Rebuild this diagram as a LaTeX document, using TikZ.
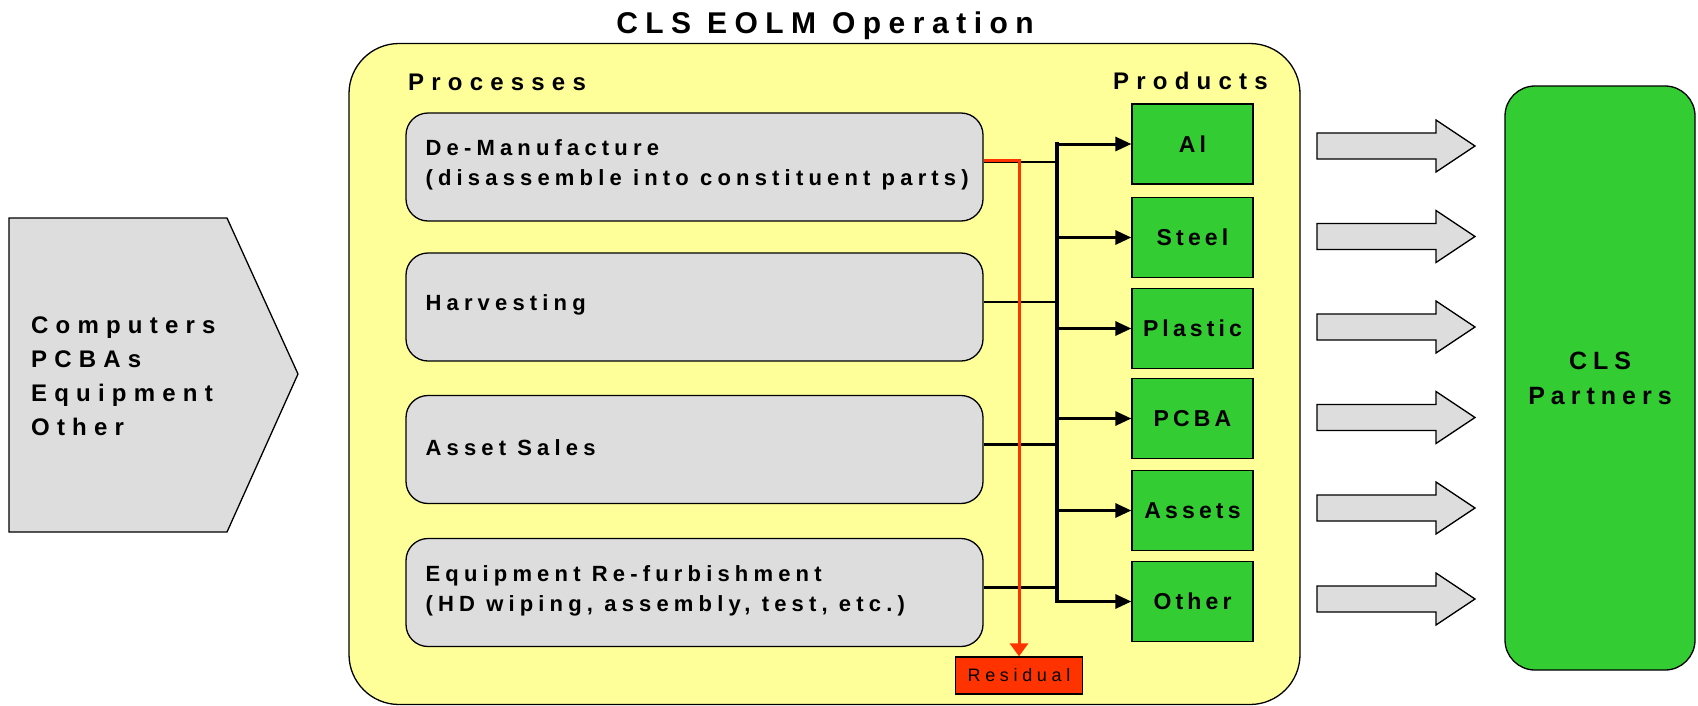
\documentclass[tikz,border=0pt]{standalone}
\usepackage{fontspec}
\setmainfont{Liberation Sans}
\newfontfamily\titlefam[LetterSpace=25]{Liberation Sans}
\newfontfamily\headfam[LetterSpace=30]{Liberation Sans}
\newfontfamily\procfam[LetterSpace=23.5]{Liberation Sans}
\newfontfamily\prodfam[LetterSpace=18]{Liberation Sans}
\newfontfamily\partfam[LetterSpace=24]{Liberation Sans}
\newfontfamily\resfam[LetterSpace=26]{Liberation Sans}
\usetikzlibrary{arrows.meta}
\definecolor{yel}{HTML}{FFFF99}
\definecolor{gry}{HTML}{DDDDDD}
\definecolor{grn}{HTML}{33CC33}
\definecolor{rd}{HTML}{FF3300}
\tikzset{
  yellowbox/.style={draw, line width=1.3pt, fill=yel, rounded corners=50pt, minimum width=951pt, minimum height=661pt, inner sep=0pt},
  inshape/.style={draw, line width=1.3pt, fill=gry},
  intext/.style={anchor=west, align=left, inner sep=0pt, font=\headfam\bfseries\fontsize{24}{34}\selectfont},
  titletext/.style={anchor=base, inner sep=0pt, font=\titlefam\bfseries\fontsize{30}{34}\selectfont},
  headtext/.style={anchor=base west, inner sep=0pt, font=\headfam\bfseries\fontsize{24}{28}\selectfont},
  procbox/.style={draw, line width=1.3pt, fill=gry, rounded corners=22pt, minimum width=577pt, minimum height=108pt, inner sep=0pt},
  proctext/.style={anchor=west, align=left, inner sep=0pt, font=\procfam\bfseries\fontsize{22}{30}\selectfont},
  prodbox/.style={draw, line width=1.3pt, fill=grn, minimum width=121pt, minimum height=80pt, inner sep=0pt, font=\prodfam\bfseries\fontsize{23}{27}\selectfont},
  resbox/.style={draw, line width=1.3pt, fill=rd, minimum width=127pt, minimum height=37pt, inner sep=0pt, font=\resfam\fontsize{18}{22}\selectfont},
  partbox/.style={draw, line width=1.3pt, fill=grn, rounded corners=30pt, minimum width=190pt, minimum height=584pt, inner sep=0pt, align=center, font=\partfam\bfseries\fontsize{25}{35}\selectfont},
  feed/.style={line width=2.6pt},
  bus/.style={line width=3.8pt},
  outarr/.style={line width=3pt, -{Triangle[length=16pt,width=14pt]}},
  resarr/.style={draw=rd, line width=3pt, -{Triangle[length=13pt,width=18pt]}},
  bigarr/.style={draw, line width=1.3pt, fill=gry},
}
\begin{document}
\begin{tikzpicture}[x=1pt,y=-1pt]
\useasboundingbox (0,0) rectangle (1698,705);
\fill[white] (0,0) rectangle (1698,705);

% title and container
\node[titletext] (title) at (825,33) {CLS EOLM Operation};
\node[yellowbox] (eolm) at (824.5,374) {};
\node[headtext] (hproc) at (408,90) {Processes};
\node[headtext] (hprod) at (1113,89) {Products};

% input shape
\draw[inshape] (9,218) -- (227,218) -- (298,374) -- (227,532) -- (9,532) -- cycle;
\node[intext] (inputs) at (31,376) {Computers\\PCBAs\\Equipment\\Other};

% processes
\node[procbox] (p1) at (694.5,167) {};
\node[procbox] (p2) at (694.5,307) {};
\node[procbox] (p3) at (694.5,449.5) {};
\node[procbox] (p4) at (694.5,592.5) {};
\node[proctext] (t1) at ([xshift=20pt,yshift=2pt]p1.west) {De-Manufacture\\(disassemble into constituent parts)};
\node[proctext] (t2) at ([xshift=20pt,yshift=2pt]p2.west) {Harvesting};
\node[proctext] (t3) at ([xshift=20pt,yshift=2pt]p3.west) {Asset Sales};
\node[proctext] (t4) at ([xshift=20pt,yshift=2pt]p4.west) {Equipment Re-furbishment\\(HD wiping, assembly, test, etc.)};

% products
\node[prodbox] (q1) at (1192.5,144) {Al};
\node[prodbox] (q2) at (1192.5,237.5) {Steel};
\node[prodbox] (q3) at (1192.5,328.5) {Plastic};
\node[prodbox] (q4) at (1192.5,418.5) {PCBA};
\node[prodbox] (q5) at (1192.5,510.5) {Assets};
\node[prodbox] (q6) at (1192.5,601.5) {Other};

% residual
\node[resbox] (res) at (1019,675.5) {Residual};

% partners
\node[partbox] (partners) at (1600,378) {CLS\\Partners};

% bus
\coordinate (busx) at (1057,0);
\draw[bus] ([yshift=1.9pt]busx |- q1.west) -- ([yshift=-1.9pt]busx |- q6.west);
\foreach \i in {1,...,4}{
  \draw[feed] ([yshift=5pt]p\i.east) -- ([yshift=5pt]p\i.east -| busx);
}
\foreach \i in {1,...,6}{
  \draw[outarr] (busx |- q\i.west) -- (q\i.west);
}
% residual flow
\draw[resarr] ([yshift=6.5pt]p1.east) -- ([yshift=6.5pt]p1.east -| res.north) -- (res.north);

% big output arrows
\foreach \y in {146,236.5,327,417.5,508,599}{
  \draw[bigarr] (1317,\y-13) -- (1436,\y-13) -- (1436,\y-26) -- (1475,\y) -- (1436,\y+26) -- (1436,\y+13) -- (1317,\y+13) -- cycle;
}
\end{tikzpicture}
\end{document}
